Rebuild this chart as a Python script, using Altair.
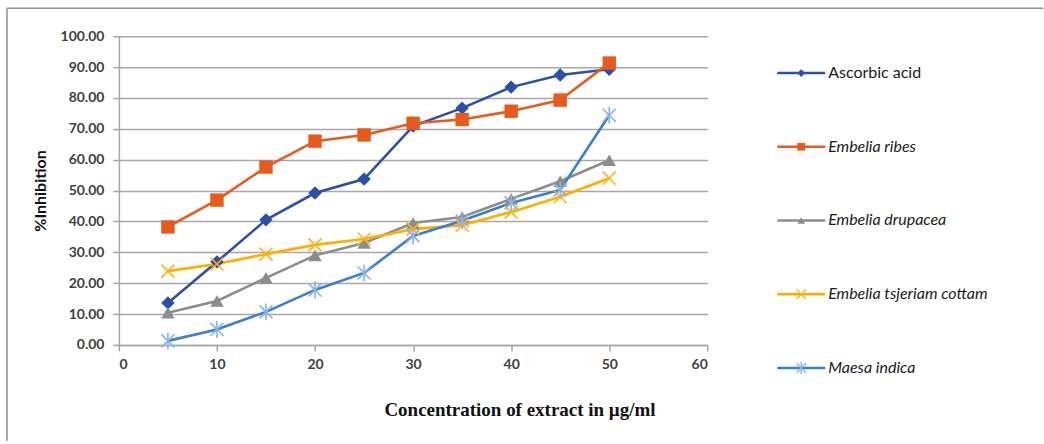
import altair as alt
import pandas as pd

conc = [5, 10, 15, 20, 25, 30, 35, 40, 45, 50]
series_names = ["Ascorbic acid", "Embelia ribes", "Embelia drupacea",
                "Embelia tsjeriam cottam", "Maesa indica"]
ascorbic = [13.6, 26.9, 40.5, 49.2, 53.7, 70.9, 76.7, 83.5, 87.4, 89.3]
ribes = [38.2, 46.9, 57.6, 66.0, 68.0, 71.8, 73.0, 75.7, 79.3, 91.3]
drupacea = [10.4, 14.2, 21.7, 29.0, 33.0, 39.5, 41.4, 47.3, 53.0, 59.8]
tsjeriam = [23.9, 26.2, 29.4, 32.4, 34.3, 37.5, 38.8, 43.0, 48.0, 54.0]
maesa = [1.3, 5.0, 10.7, 17.8, 23.3, 35.3, 40.2, 46.0, 50.2, 74.4]
x_ticks = [0, 10, 20, 30, 40, 50, 60]
y_ticks = [0, 10, 20, 30, 40, 50, 60, 70, 80, 90, 100]

line_colors = ["#2D4FA8", "#E65A1E", "#8C8C8C", "#FFAE00", "#3B7DD0"]
filled_names = series_names[:3]
open_names = series_names[3:]
filled_shapes = ["diamond", "square", "triangle-up"]
open_shapes = ["M-1,-1L1,1M-1,1L1,-1", "M-1,-1L1,1M-1,1L1,-1M0,-1.3L0,1.3"]
open_colors = ["#FFB21A", "#86B4EC"]

rows = []
for name, vals in zip(series_names, [ascorbic, ribes, drupacea, tsjeriam, maesa]):
    for c, v in zip(conc, vals):
        rows.append({"conc": c, "value": v, "series": name})
df = pd.DataFrame(rows)

FONT = "Lato"
color_enc = alt.Color("series:N", scale=alt.Scale(domain=series_names, range=line_colors), legend=None)
x_enc = alt.X("conc:Q", scale=alt.Scale(domain=[0, 60], nice=False),
              axis=alt.Axis(values=x_ticks, grid=False, title="Concentration of extract in µg/ml",
                            titleFont="Liberation Serif", titleFontSize=19, titleFontWeight="bold",
                            titleColor="#111111", titleX=401, titleY=65, titleBaseline="middle",
                            titleAlign="center", labelPadding=7, labelOverlap=False))
y_enc = alt.Y("value:Q", scale=alt.Scale(domain=[0, 100], nice=False),
              axis=alt.Axis(values=y_ticks, format=".2f", grid=True, title="%Inhibition",
                            titleFont=FONT, titleFontSize=16, titleFontWeight="bold",
                            titleColor="#111111", titlePadding=12, labelPadding=9,
                            labelOverlap=False))

base = alt.Chart(df)
lines = base.mark_line(strokeWidth=2.6).encode(x=x_enc, y=y_enc, color=color_enc, detail="series:N")
pts_filled = base.transform_filter(
    alt.FieldOneOfPredicate(field="series", oneOf=filled_names)
).mark_point(filled=True, opacity=1, size=180).encode(
    x=x_enc, y=y_enc, color=color_enc,
    shape=alt.Shape("series:N", scale=alt.Scale(domain=filled_names, range=filled_shapes), legend=None))
pts_open = base.transform_filter(
    alt.FieldOneOfPredicate(field="series", oneOf=open_names)
).mark_point(filled=False, opacity=1, size=170, strokeWidth=1.6).encode(
    x=x_enc, y=y_enc,
    stroke=alt.Stroke("series:N", scale=alt.Scale(domain=open_names, range=open_colors), legend=None),
    shape=alt.Shape("series:N", scale=alt.Scale(domain=open_names, range=open_shapes), legend=None))

frame_df = pd.DataFrame({"k": [0]})
frame_left = alt.Chart(frame_df).mark_rule(color="#8f8f8f", strokeWidth=1.5).encode(
    x=alt.value(-112), y=alt.value(-28), y2=alt.value(405))
frame_top = alt.Chart(frame_df).mark_rule(color="#8f8f8f", strokeWidth=1.5).encode(
    x=alt.value(-112), x2=alt.value(925), y=alt.value(-28))

main = alt.layer(frame_left, frame_top, lines, pts_filled, pts_open).resolve_scale(
    shape="independent").properties(width=589, height=309)

# Legend panel
leg_df = pd.DataFrame({"series": series_names})
ly = alt.Y("series:N", sort=series_names, axis=None,
           scale=alt.Scale(domain=series_names, paddingInner=0, paddingOuter=0))
lcolor = alt.Color("series:N", scale=alt.Scale(domain=series_names, range=line_colors), legend=None)
lbase = alt.Chart(leg_df)
l_rule = lbase.mark_rule(strokeWidth=2.6).encode(x=alt.value(0), x2=alt.value(48), y=ly, color=lcolor)
l_pf = lbase.transform_filter(
    alt.FieldOneOfPredicate(field="series", oneOf=filled_names)
).mark_point(filled=True, opacity=1, size=60).encode(
    x=alt.value(24), y=ly, color=lcolor,
    shape=alt.Shape("series:N", scale=alt.Scale(domain=filled_names, range=filled_shapes), legend=None))
l_po = lbase.transform_filter(
    alt.FieldOneOfPredicate(field="series", oneOf=open_names)
).mark_point(filled=False, opacity=1, size=90, strokeWidth=1.4).encode(
    x=alt.value(24), y=ly,
    stroke=alt.Stroke("series:N", scale=alt.Scale(domain=open_names, range=open_colors), legend=None),
    shape=alt.Shape("series:N", scale=alt.Scale(domain=open_names, range=open_shapes), legend=None))
l_txt_n = lbase.transform_filter(alt.datum.series == "Ascorbic acid").mark_text(
    align="left", baseline="middle", font=FONT, fontSize=16, color="#1a1a1a").encode(
    x=alt.value(51), y=ly, text="series:N")
l_txt_i = lbase.transform_filter(alt.datum.series != "Ascorbic acid").mark_text(
    align="left", baseline="middle", font=FONT, fontSize=16, fontStyle="italic", color="#1a1a1a").encode(
    x=alt.value(51), y=ly, text="series:N")
legend = alt.layer(l_rule, l_pf, l_po, l_txt_n, l_txt_i).resolve_scale(
    shape="independent").properties(width=230, height=369)

chart = alt.hconcat(main, legend, spacing=70, bounds="flush").properties(
    padding={"left": 6, "top": 7, "right": 0, "bottom": 0},
    background="white"
).configure_view(stroke=None).configure_axis(
    labelFont=FONT, labelFontSize=14, labelFontWeight="bold", labelColor="#404040",
    domainColor="#A6A6A6", domainWidth=1.5, tickColor="#A6A6A6", tickWidth=1.5, tickSize=6,
    gridColor="#A8A8A8", gridWidth=1.5
)

chart.save("out.html", embed_options={"renderer": "svg", "actions": False})
